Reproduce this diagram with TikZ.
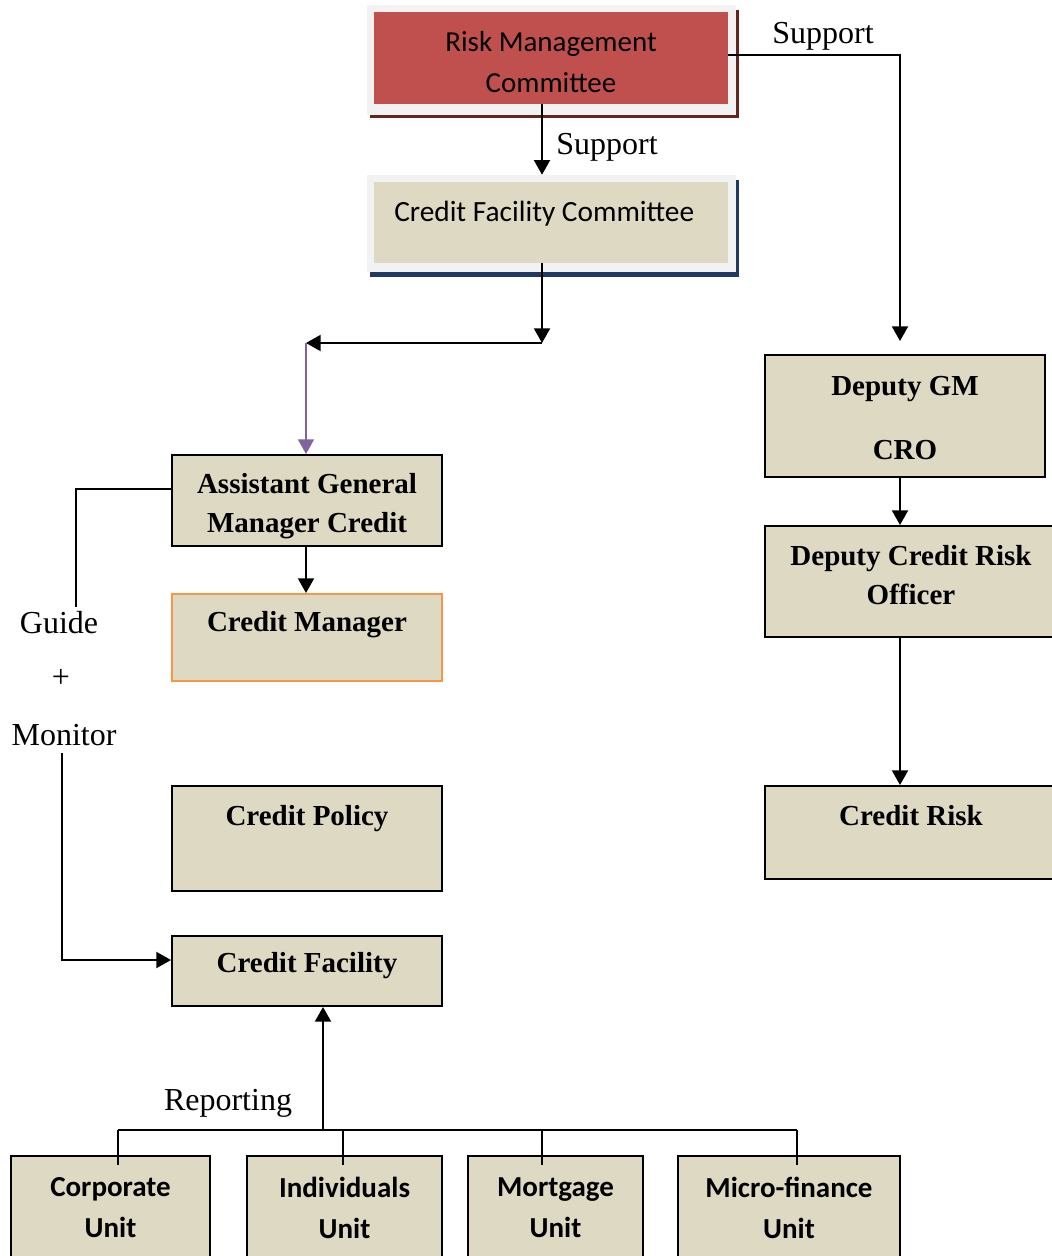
\documentclass[tikz,border=0pt]{standalone}
\usepackage{fontspec}
\setmainfont{Liberation Serif}
\newfontfamily\calib{Carlito}
\usetikzlibrary{arrows.meta}
\definecolor{boxfill}{HTML}{DDD9C3}
\definecolor{rmcred}{HTML}{C0504D}
\definecolor{rmcshadow}{HTML}{632523}
\definecolor{navyshadow}{HTML}{1F3864}
\definecolor{framegrey}{HTML}{F2F2F2}
\definecolor{cmorange}{HTML}{F79646}
\definecolor{arrpurple}{HTML}{8064A2}
\begin{document}
\begin{tikzpicture}[x=0.75pt,y=-0.75pt,
 box/.style={draw=black, line width=1.5pt, fill=boxfill, rectangle, inner sep=0pt},
 btext/.style={font=\fontsize{21.75pt}{29.25pt}\selectfont\bfseries, align=center, inner sep=0pt},
 ctext/.style={font=\calib\fontsize{21.75pt}{30.75pt}\selectfont, align=center, inner sep=0pt},
 ubtext/.style={font=\calib\bfseries\fontsize{21.75pt}{30.75pt}\selectfont, align=center, inner sep=0pt},
 ltext/.style={font=\fontsize{24pt}{28pt}\selectfont, inner sep=0pt},
 arr/.style={-{Triangle[length=11pt,width=12pt]}, line width=1.5pt},
 ln/.style={line width=1.5pt}]
\useasboundingbox (0,0) rectangle (1052,1256);
\clip (0,0) rectangle (1052,1256);

% Risk Management Committee
\fill[rmcshadow] (370,10) rectangle (739,118);
\node[fill=framegrey, inner sep=0pt, minimum width=276.75pt, minimum height=82.5pt] (rmc) at (551.5,60) {};
\node[fill=rmcred, inner sep=0pt, minimum width=265.5pt, minimum height=69pt] (rmcin) at (551,58) {};
\node[ctext] (rmct) at (551,62) {Risk Management\\Committee};

% Credit Facility Committee
\fill[navyshadow] (370,180) rectangle (739,277);
\node[fill=framegrey, inner sep=0pt, minimum width=276.75pt, minimum height=72.75pt] (cfc) at (551.5,223.5) {};
\node[fill=boxfill, inner sep=0pt, minimum width=265.5pt, minimum height=60.75pt] (cfcin) at (551,222.5) {};
\node[ctext, anchor=west, font=\calib\fontsize{22pt}{30pt}\selectfont] (cfct) at (394,214) {Credit Facility Committee};

% Left column
\node[box, minimum width=202.5pt, minimum height=68.25pt] (agm) at (307,500.5) {};
\node[btext] (agmt) at (307,506.5) {Assistant General\\Manager Credit};
\node[box, draw=cmorange, minimum width=202.5pt, minimum height=65.25pt] (cm) at (307,637.5) {};
\node[btext] (cmt) at (307,625) {Credit Manager};
\node[box, minimum width=202.5pt, minimum height=78.75pt] (cp) at (307,838.5) {};
\node[btext] (cpt) at (307,819) {Credit Policy};
\node[box, minimum width=202.5pt, minimum height=52.5pt] (cf) at (307,971) {};
\node[btext] (cft) at (307,966) {Credit Facility};

% Right column
\node[box, minimum width=210pt, minimum height=91.5pt] (dgm) at (905,416) {};
\node[btext] (dgmt) at (905,418) {Deputy GM\\[18.75pt]CRO};
\node[box, minimum width=221.25pt, minimum height=83.25pt] (dcro) at (912.5,581.5) {};
\node[btext] (dcrot) at (911,575.5) {Deputy Credit Risk\\Officer};
\node[box, minimum width=221.25pt, minimum height=69.75pt] (cr) at (912.5,832.5) {};
\node[btext] (crt) at (911,816) {Credit Risk};

% Bottom units
\node[box, minimum width=149.25pt, minimum height=93pt] (u1) at (110.5,1218) {};
\node[ubtext] (u1t) at (110.5,1207.5) {Corporate\\Unit};
\node[box, minimum width=146.25pt, minimum height=93pt] (u2) at (344.5,1218) {};
\node[ubtext] (u2t) at (344.5,1207.5) {Individuals\\Unit};
\node[box, minimum width=131.25pt, minimum height=93pt] (u3) at (555.5,1218) {};
\node[ubtext] (u3t) at (555.5,1207.5) {Mortgage\\Unit};
\node[box, minimum width=166.5pt, minimum height=93pt] (u4) at (789,1218) {};
\node[ubtext] (u4t) at (789,1207.5) {Micro-finance\\Unit};

% Labels
\node[ltext] (sup1) at (607,147) {Support};
\node[ltext] (sup2) at (823,36) {Support};
\node[ltext] (guide) at (59,623) {Guide};
\node[ltext] (plus) at (61,678) {+};
\node[ltext] (monitor) at (64,735) {Monitor};
\node[ltext] (rep) at (228,1103) {Reporting};

% Coordinates
\coordinate (j1) at (542,343);
\coordinate (j2) at (306,343);
\coordinate (jr) at (900,55);
\coordinate (g1) at (76,489);
\coordinate (g2) at (76,607);
\coordinate (m1) at (62,753);
\coordinate (m2) at (62,960);
\coordinate (rb) at (323,1130);
\coordinate (busL) at (118,1130);
\coordinate (busR) at (797,1130);
\coordinate (bus2) at (343,1130);
\coordinate (bus3) at (542,1130);

% Connectors
\draw[arr] (rmcin.south -| j1) -- (cfc.north -| j1);
\draw[arr, shorten >=9.75pt] (rmcin.east |- jr) -- (jr) -- (dgm.north -| jr);
\draw[arr] (cfcin.south -| j1) -- (j1);
\draw[arr] (j1) -- (j2);
\draw[-{Triangle[length=11pt,width=12pt]}, line width=1.2pt, draw=arrpurple, fill=arrpurple] (j2) -- (agm.north -| j2);
\draw[arr] (agm.south -| j2) -- (cm.north -| j2);
\draw[ln] (agm.west |- g1) -- (g1) -- (g2);
\draw[arr] (m1) -- (m2) -- (cf.west |- m2);
\draw[arr] (rb) -- (cf.south -| rb);
\draw[ln] (busL) -- (busR);
\draw[ln] (busL) -- ([yshift=-7.5pt]u1.north -| busL);
\draw[ln] (bus2) -- ([yshift=-7.5pt]u2.north -| bus2);
\draw[ln] (bus3) -- ([yshift=-7.5pt]u3.north -| bus3);
\draw[ln] (busR) -- ([yshift=-7.5pt]u4.north -| busR);
\draw[arr] (dgm.south -| jr) -- (dcro.north -| jr);
\draw[arr] (dcro.south -| jr) -- (cr.north -| jr);
\end{tikzpicture}
\end{document}
